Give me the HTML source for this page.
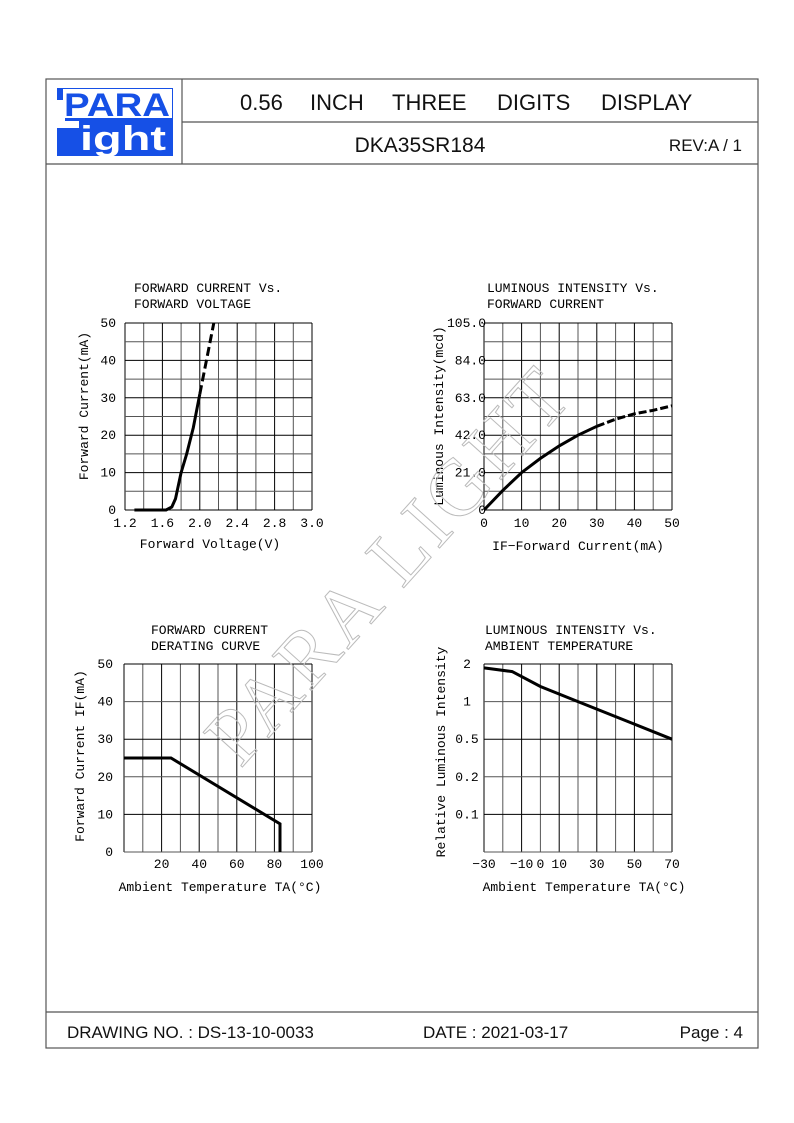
<!DOCTYPE html>
<html><head><meta charset="utf-8"><style>
body{margin:0;background:#fff;}
svg{display:block}
.t{font-family:"Liberation Mono",monospace;font-size:13px;fill:#000}
.h{font-family:"Liberation Sans",sans-serif;fill:#111}
</style></head><body>
<svg id="page" width="794" height="1123" viewBox="0 0 794 1123">
<g stroke="#555" fill="none" stroke-width="1.2">
<rect x="46" y="79" width="712" height="969"/>
<line x1="182" y1="122" x2="758" y2="122"/>
<line x1="46" y1="164" x2="758" y2="164"/>
<line x1="182" y1="79" x2="182" y2="164"/>
<line x1="46" y1="1012" x2="758" y2="1012"/>
</g>
<g>
<rect x="57" y="88" width="116" height="68" fill="#1650e6"/>
<rect x="63" y="89" width="109" height="29" fill="#fff"/>
<rect x="57" y="100" width="8" height="28" fill="#fff"/>
<rect x="57" y="121" width="22" height="7" fill="#fff"/>
<text x="64" y="116" font-family="Liberation Sans,sans-serif" font-weight="bold" font-size="32" fill="#1650e6" textLength="106" lengthAdjust="spacingAndGlyphs">PARA</text>
<text x="80" y="150" font-family="Liberation Sans,sans-serif" font-weight="bold" font-size="34" fill="#fff" textLength="86" lengthAdjust="spacingAndGlyphs">ight</text>
</g>
<text class="h" y="110" font-size="22"><tspan x="240">0.56</tspan><tspan x="310">INCH</tspan><tspan x="392">THREE</tspan><tspan x="497">DIGITS</tspan><tspan x="601">DISPLAY</tspan></text>
<text class="h" x="420" y="152" font-size="21" text-anchor="middle">DKA35SR184</text>
<text class="h" x="742" y="151" font-size="17" text-anchor="end">REV:A / 1</text>
<text class="h" x="67" y="1038" font-size="17">DRAWING NO. : DS-13-10-0033</text>
<text class="h" x="423" y="1038" font-size="17">DATE : 2021-03-17</text>
<text class="h" x="743" y="1038" font-size="17" text-anchor="end">Page : 4</text>
<g id="charts"></g>
<text x="392" y="590" transform="rotate(-48 392 568)" text-anchor="middle" font-family="Liberation Serif,serif" font-size="80" fill="none" stroke="#bbb" stroke-width="1" letter-spacing="4">PARA LIGHT</text>
</svg>
<script>
// Chart 1: forward current vs forward voltage
const c1XTicks=[1.2,1.6,2.0,2.4,2.8,3.2];
const c1XLabels=["1.2","1.6","2.0","2.4","2.8","3.0"];
const c1YTicks=[0,10,20,30,40,50];
const c1V=[1.3,1.64,1.7,1.74,1.8,1.86,1.93,2.0];
const c1I=[0,0,0.8,3,10,15,22,31];
const c1DashV=[2.0,2.15];
const c1DashI=[31,50];
// Chart 2: luminous intensity vs forward current
const c2XTicks=[0,10,20,30,40,50];
const c2YTicks=[0,21,42,63,84,105];
const c2YLabels=["0","21.0","42.0","63.0","84.0","105.0"];
const c2I=[0,5,10,15,20,25,30];
const c2L=[0,11,21,29,36,42,47];
const c2DashI=[30,35,40,45,50];
const c2DashL=[47,51,54,56,58.5];
// Chart 3: derating curve
const c3XTicks=[20,40,60,80,100];
const c3YTicks=[0,10,20,30,40,50];
const c3T=[0,25,83,83];
const c3I=[25,25,7.5,0];
// Chart 4: relative luminous intensity vs ambient temperature
const c4XTicks=[-30,-10,0,10,30,50,70];
const c4YTicks=[2,1,0.5,0.2,0.1];
const c4T=[-30,-15,0,20,50,70];
const c4R=[1.86,1.74,1.32,1.0,0.66,0.5];

const NS="http://www.w3.org/2000/svg";
const root=document.getElementById('charts');
function mk(tag,attrs,parent){const e=document.createElementNS(NS,tag);for(const k in attrs)e.setAttribute(k,attrs[k]);(parent||root).appendChild(e);return e;}
function txt(s,x,y,anchor,parent){const e=mk('text',{x:x,y:y,'text-anchor':anchor||'middle',class:'t'},parent);e.textContent=s;return e;}

function frame(g,x0,y0,w,h,cols,rows){
  for(let i=0;i<=cols;i++){const l=mk('line',{x1:x0+w*i/cols,y1:y0,x2:x0+w*i/cols,y2:y0+h,stroke:i%2?'#555':'#000','stroke-width':1},g);}
  for(let j=0;j<=rows;j++){const l=mk('line',{x1:x0,y1:y0+h*j/rows,x2:x0+w,y2:y0+h*j/rows,stroke:j%2?'#555':'#000','stroke-width':1},g);}
}
function line(g,xs,ys,fx,fy,dash,name){
  const d=xs.map((v,i)=>(i?'L':'M')+fx(v).toFixed(1)+','+fy(ys[i]).toFixed(1)).join('');
  const p=mk('path',{d:d,fill:'none',stroke:'#000','stroke-width':3,'stroke-dasharray':dash||'none'},g);
  
  
}
function title(g,a,b,x,y){txt(a,x,y,'start',g).setAttribute('xml:space','preserve');txt(b,x,y+16,'start',g).setAttribute('xml:space','preserve');}
function ytitle(g,s,x,y){const e=txt(s,x,y,'middle',g);e.setAttribute('transform','rotate(-90 '+x+' '+y+')');e.setAttribute('font-size','14');return e;}

// Chart 1
(function(){
  const g=mk('g',{});
  const x0=125,x1=312,y0=323,y1=510;
  const fx=v=>x0+(v-1.2)/(3.2-1.2)*(x1-x0), fy=v=>y1-v/50*(y1-y0);
  frame(g,x0,y0,x1-x0,y1-y0,10,10);
  title(g,'FORWARD  CURRENT  Vs.','FORWARD  VOLTAGE',134,292);
  c1XTicks.forEach((t,i)=>txt(c1XLabels[i],fx(t),527,'middle',g));
  c1YTicks.forEach(t=>txt(String(t),116,fy(t)+4,'end',g));
  txt('Forward  Voltage(V)',210,548,'middle',g).setAttribute('xml:space','preserve');
  ytitle(g,'Forward Current(mA)',88,406);
  line(g,c1V,c1I,fx,fy,null,'iv-curve-solid');
  line(g,c1DashV,c1DashI,fx,fy,'9 4','iv-curve-dashed');
})();
// Chart 2
(function(){
  const g=mk('g',{});
  const x0=484,x1=672,y0=323,y1=510;
  const fx=v=>x0+v/50*(x1-x0), fy=v=>y1-v/105*(y1-y0);
  frame(g,x0,y0,x1-x0,y1-y0,10,10);
  title(g,'LUMINOUS  INTENSITY  Vs.','FORWARD  CURRENT',487,292);
  c2XTicks.forEach(t=>txt(String(t),fx(t),527,'middle',g));
  c2YTicks.forEach((t,i)=>txt(c2YLabels[i],486,fy(t)+4,'end',g));
  txt('IF\u2212Forward  Current(mA)',578,550,'middle',g).setAttribute('xml:space','preserve');
  ytitle(g,'Luminous Intensity(mcd)',443,416);
  line(g,c2I,c2L,fx,fy,null,'luminous-curve-solid');
  line(g,c2DashI,c2DashL,fx,fy,'8 3','luminous-curve-dashed');
})();
// Chart 3
(function(){
  const g=mk('g',{});
  const x0=124,x1=312,y0=664,y1=852;
  const fx=v=>x0+v/100*(x1-x0), fy=v=>y1-v/50*(y1-y0);
  frame(g,x0,y0,x1-x0,y1-y0,10,5);
  title(g,'FORWARD  CURRENT','DERATING  CURVE',151,634);
  c3XTicks.forEach(t=>txt(String(t),fx(t),868,'middle',g));
  c3YTicks.forEach(t=>txt(String(t),113,fy(t)+4,'end',g));
  txt('Ambient  Temperature  TA(\u00b0C)',220,891,'middle',g).setAttribute('xml:space','preserve');
  ytitle(g,'Forward Current IF(mA)',84,756);
  line(g,c3T,c3I,fx,fy,null,'derating-curve');
})();
// Chart 4
(function(){
  const g=mk('g',{});
  const x0=484,x1=672,y0=664,y1=852;
  const rowH=(y1-y0)/5;
  const fx=v=>x0+(v+30)/100*(x1-x0);
  const fy=v=>{for(let i=0;i<c4YTicks.length-1;i++){const a=c4YTicks[i],b=c4YTicks[i+1];if(v<=a&&v>=b){return y0+rowH*(i+Math.log(a/v)/Math.log(a/b));}}return v>c4YTicks[0]?y0:y0+rowH*(c4YTicks.length-1);};
  frame(g,x0,y0,x1-x0,y1-y0,10,5);
  title(g,'LUMINOUS  INTENSITY  Vs.','AMBIENT  TEMPERATURE',485,634);
  c4XTicks.forEach(t=>txt(t<0?'\u2212'+(-t):String(t),fx(t),868,'middle',g));
  c4YTicks.forEach(t=>txt(String(t),467,fy(t)+4,'middle',g));
  txt('Ambient  Temperature  TA(\u00b0C)',584,891,'middle',g).setAttribute('xml:space','preserve');
  ytitle(g,'Relative Luminous Intensity',445,752);
  line(g,c4T,c4R,fx,fy,null,'relative-intensity-curve');
})();
</script>
</body></html>
